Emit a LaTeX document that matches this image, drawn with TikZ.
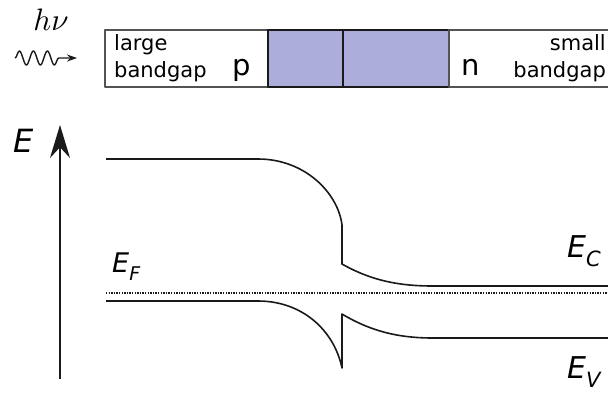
\documentclass[tikz,border=0pt]{standalone}
\usepackage{fontspec}
\setmainfont{DejaVu Sans}
\usetikzlibrary{arrows.meta,decorations.pathmorphing}
\definecolor{ink}{HTML}{1A1A1A}
\definecolor{junction}{HTML}{ADADDC}
\newcommand\elevel[2]{\fontsize{#1}{#1}\selectfont\itshape E\raisebox{-0.3em}{\fontsize{0.7\dimexpr#1pt\relax}{1}\selectfont #2}}

\begin{document}
\begin{tikzpicture}[x=1pt,y=-1pt,line join=round,
    cell/.style={draw=ink!75,line width=1.1pt},
    word/.style={inner sep=0pt,font=\fontsize{21}{23}\selectfont},
    dopant/.style={inner sep=0pt,font=\fontsize{29}{31}\selectfont},
    band/.style={draw=ink,line width=1.6pt},
    level/.style={inner sep=0pt,anchor=base west}]
  \useasboundingbox (0,0) rectangle (608,392);

  % layer stack
  \draw[cell] (105,30) rectangle (268,87);
  \draw[cell,fill=junction,draw=ink] (268,30) rectangle (343,87);
  \draw[cell,fill=junction,draw=ink] (343,30) rectangle (449,87);
  \draw[cell] (608,30) -- (449,30) -- (449,87) -- (608,87);
  \node[word,anchor=base west] (large) at (114,50) {large};
  \node[word,anchor=base west] (gapleft) at (114,77) {bandgap};
  \node[dopant,anchor=base west] (p) at (232,75) {p};
  \node[dopant,anchor=base west] (n) at (461,75) {n};
  \node[word,anchor=base east] (small) at (606,50) {small};
  \node[word,anchor=base east] (gapright) at (606,77) {bandgap};

  % incoming light
  \node[inner sep=0pt] (hnu) at (51,20) {\scalebox{3.1}{$h\nu$}};
  \coordinate (wavein) at (15,58);
  \coordinate (waveout) at (77,58);
  \draw[ink,line width=1.4pt,decorate,
        decoration={snake,amplitude=7pt,segment length=14pt,post length=12pt},
        -{Stealth[length=10pt,width=7pt]}] (wavein) -- (waveout);

  % energy axis
  \coordinate (axisfoot) at (60,379);
  \coordinate (axistop) at (60,125);
  \draw[ink,line width=1.8pt,-{Stealth[length=33pt,width=20pt]}] (axisfoot) -- (axistop);
  \node[level] (elabel) at (13,152) {\fontsize{32}{32}\selectfont\itshape E};

  % bands
  \draw[band] (106,159) -- (258,159) .. controls (305,159) and (338,193) .. (342,225)
    -- (342,264) .. controls (372,281) and (400,286) .. (433,286) -- (608,286);
  \draw[ink,line width=1.2pt,dash pattern=on 1.3pt off 1.3pt] (106,293) -- (608,293);
  \draw[band] (106,301) -- (258,301) .. controls (302,301) and (334,330) .. (342,368)
    -- (342,314) .. controls (372,332) and (400,338) .. (433,338) -- (608,338);

  \node[level] (ef) at (112,272) {\elevel{27}{F}};
  \node[level] (ec) at (567,257) {\elevel{30}{C}};
  \node[level] (ev) at (567,378) {\elevel{30}{V}};
\end{tikzpicture}
\end{document}
